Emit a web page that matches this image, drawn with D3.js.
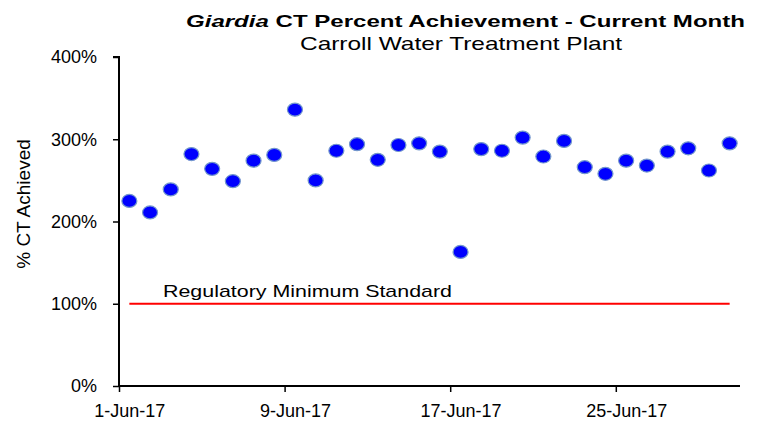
<!DOCTYPE html>
<html>
<head>
<meta charset="utf-8">
<script src="https://cdn.jsdelivr.net/npm/d3@7"></script>
<style>
  html, body { margin: 0; padding: 0; background: #fff; }
  svg { display: block; font-family: "Liberation Sans", Arial, sans-serif; }
</style>
</head>
<body>
<svg id="chart" width="765" height="422"></svg>
<script>
// June 2017, one reading a day
const days = [1, 2, 3, 4, 5, 6, 7, 8, 9, 10, 11, 12, 13, 14, 15,
              16, 17, 18, 19, 20, 21, 22, 23, 24, 25, 26, 27, 28, 29, 30];
const ctAchieved = [225, 211, 239, 282, 264, 249, 274, 281, 336, 250, 286, 294, 275, 293, 295,
                    285, 163, 288, 286, 302, 279, 298, 266, 258, 274, 268, 285, 289, 262, 295];
const regulatoryMin = 100;
const xTickDays = [1, 9, 17, 25];
const yTicks = [0, 100, 200, 300, 400];

const margin = { left: 119, right: 25, top: 57, bottom: 36 };
const width = 765, height = 422;

const svg = d3.select("#chart");
const day = d => new Date(Date.UTC(2017, 5, d));

const x = d3.scaleUtc()
    .domain([day(1), day(31)])
    .range([margin.left, width - margin.right]);
const y = d3.scaleLinear()
    .domain([0, 400])
    .range([height - margin.bottom, margin.top]);

const halfDay = (x(day(2)) - x(day(1))) / 2;
const data = days.map((d, i) => ({ date: day(d), value: ctAchieved[i] }));

// regulatory minimum line
const line = d3.line()
    .x(d => x(d.date) + halfDay)
    .y(() => y(regulatoryMin));
svg.append("path")
    .datum(data)
    .attr("d", line)
    .attr("fill", "none")
    .attr("stroke", "#ff0000")
    .attr("stroke-width", 2);

svg.append("text")
    .attr("x", 163)
    .attr("y", y(regulatoryMin) - 7)
    .attr("font-size", "17px")
    .attr("textLength", 289)
    .attr("lengthAdjust", "spacingAndGlyphs")
    .attr("fill", "#000")
    .text("Regulatory Minimum Standard");

// axes
const yAxis = svg.append("g")
    .attr("transform", `translate(${margin.left},0)`)
    .call(d3.axisLeft(y).tickValues(yTicks).tickFormat(d => d + "%").tickSize(6).tickPadding(16));
yAxis.select(".domain").attr("stroke-width", 2).attr("d", `M-6,${y(400)}H0V${y(0)}`);
yAxis.selectAll(".tick line").attr("stroke-width", 1.5);
yAxis.selectAll(".tick text").attr("font-size", "18px").attr("font-family", null).attr("fill", "#000");

const xAxis = svg.append("g")
    .attr("transform", `translate(0,${y(0)})`)
    .call(d3.axisBottom(x).tickValues(xTickDays.map(day)).tickFormat(d3.utcFormat("%-d-%b-%y")).tickSize(6).tickPadding(12));
xAxis.select(".domain").attr("stroke-width", 2).attr("d", `M${x.range()[0]},0H${x.range()[1]}`);
xAxis.selectAll(".tick line").attr("stroke-width", 1.5);
xAxis.selectAll(".tick text")
    .attr("font-size", "18px")
    .attr("font-family", null)
    .attr("fill", "#000")
    .attr("x", halfDay);

// points
svg.append("g")
    .selectAll("ellipse")
    .data(data)
    .join("ellipse")
    .attr("cx", d => x(d.date) + halfDay)
    .attr("cy", d => y(d.value))
    .attr("rx", 7.5)
    .attr("ry", 6.5)
    .attr("fill", "#0000ff")
    .attr("stroke", "#7397cc")
    .attr("stroke-width", 1.2);

// titles
const title = svg.append("text")
    .attr("x", 186)
    .attr("y", 27)
    .attr("font-size", "17px")
    .attr("font-weight", "bold")
    .attr("textLength", 559)
    .attr("lengthAdjust", "spacingAndGlyphs");
title.append("tspan").attr("font-style", "italic").text("Giardia");
title.append("tspan").text(" CT Percent Achievement  - Current Month");

svg.append("text")
    .attr("x", 300)
    .attr("y", 50)
    .attr("font-size", "19px")
    .attr("textLength", 322)
    .attr("lengthAdjust", "spacingAndGlyphs")
    .text("Carroll Water Treatment Plant");

svg.append("text")
    .attr("transform", "translate(30,204) rotate(-90)")
    .attr("text-anchor", "middle")
    .attr("font-size", "19px")
    .text("% CT Achieved");
</script>
</body>
</html>
